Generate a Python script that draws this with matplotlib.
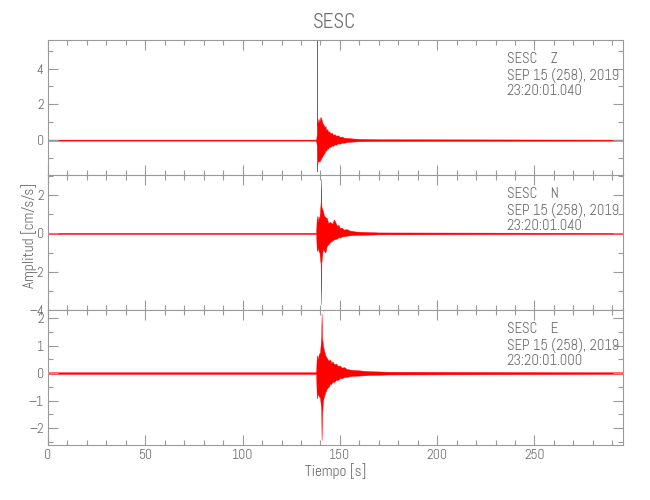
import matplotlib
matplotlib.use('Agg')
import matplotlib.pyplot as plt
from matplotlib.ticker import MultipleLocator

plt.rcParams['font.family'] = ['Abel', 'DejaVu Sans']

# ---- datos (envolvente superior / inferior) ----
t_z = [0, 137.8, 138.1, 138.15, 138.2, 138.25, 138.6, 139.0, 139.5, 140.0, 140.5, 141.0,
       141.5, 142.2, 142.6, 143.0, 143.5, 144.0, 144.6, 145.0, 145.8, 146.5, 147.3, 148.0,
       149.0, 150.0, 151.0, 152.0, 154.0, 157.0, 160.0, 170.0, 295.5]
hi_z = [0.03, 0.03, 0.3, 0.5, 5.6, 0.8, 1.0, 1.2, 1.0, 1.3, 1.2, 0.95,
        0.9, 0.7, 0.8, 0.55, 0.62, 0.45, 0.5, 0.38, 0.42, 0.3, 0.33, 0.25,
        0.27, 0.18, 0.2, 0.14, 0.12, 0.09, 0.07, 0.05, 0.03]
lo_z = [-0.03, -0.03, -0.3, -0.6, -1.75, -1.5, -1.2, -1.15, -1.2, -1.1, -1.0, -0.9,
        -0.8, -0.7, -0.55, -0.6, -0.45, -0.48, -0.35, -0.4, -0.3, -0.32, -0.24, -0.26,
        -0.18, -0.2, -0.14, -0.15, -0.1, -0.08, -0.06, -0.05, -0.03]

t_n = [0, 137.8, 138.1, 138.5, 139.0, 139.5, 140.1, 140.3, 140.5, 141.2, 141.8, 142.5,
       143.3, 144.0, 145.0, 146.0, 147.0, 148.5, 149.3, 150.0, 151.0, 152.0, 153.5, 155.0,
       158.0, 162.0, 170.0, 295.5]
hi_n = [0.03, 0.03, 0.9, 0.6, 0.9, 0.75, 1.6, 2.84, 1.4, 1.2, 0.95, 0.85,
        0.8, 0.55, 0.6, 0.5, 0.73, 0.4, 0.45, 0.28, 0.3, 0.2, 0.22, 0.15,
        0.1, 0.08, 0.05, 0.03]
lo_n = [-0.03, -0.03, -0.92, -0.75, -0.9, -1.0, -1.6, -3.69, -1.5, -0.83, -0.9, -1.0,
        -0.65, -0.57, -0.45, -0.38, -0.31, -0.27, -0.2, -0.22, -0.16, -0.15, -0.12, -0.1,
        -0.08, -0.07, -0.05, -0.03]

t_e = [0, 137.8, 138.1, 138.6, 139.2, 139.8, 140.4, 140.6, 140.8, 141.3, 141.8, 142.5,
       143.3, 144.2, 145.0, 145.5, 146.3, 147.0, 148.0, 149.0, 150.0, 151.0, 152.2, 153.5,
       156.0, 160.0, 165.0, 175.0, 295.5]
hi_e = [0.03, 0.03, 0.65, 0.5, 0.7, 0.75, 1.3, 2.17, 1.32, 1.0, 0.84, 0.65,
        0.55, 0.45, 0.5, 0.38, 0.42, 0.32, 0.35, 0.26, 0.28, 0.2, 0.22, 0.15,
        0.12, 0.1, 0.07, 0.05, 0.03]
lo_e = [-0.03, -0.03, -0.92, -0.75, -0.85, -0.9, -1.3, -2.44, -1.59, -1.0, -0.86, -0.7,
        -0.56, -0.5, -0.38, -0.4, -0.3, -0.33, -0.24, -0.25, -0.18, -0.19, -0.14, -0.14,
        -0.1, -0.09, -0.07, -0.05, -0.03]

canales = ['Z', 'N', 'E']
horas = ['23:20:01.040', '23:20:01.040', '23:20:01.000']
ylims = [(-1.95, 5.6), (-4.0, 3.05), (-2.62, 2.3)]
y_major = [2, 2, 1]
y_minor = [1, 1, 0.5]
series = [(t_z, hi_z, lo_z), (t_n, hi_n, lo_n), (t_e, hi_e, lo_e)]

gris = '#9a9a9a'
gris_txt = '#707070'
fig = plt.figure(figsize=(6.5, 5), dpi=100)

x0, w, h = 48 / 650, 575 / 650, 0.27
bottoms = [0.65, 0.38, 0.11]

for i in range(3):
    ax = fig.add_axes([x0, bottoms[i], w, h])
    t, hi, lo = series[i]
    ax.fill_between(t, lo, hi, color='red', linewidth=0.3, edgecolor='red')
    ax.set_xlim(0, 295.5)
    ax.set_ylim(*ylims[i])
    ax.xaxis.set_major_locator(MultipleLocator(50))
    ax.xaxis.set_minor_locator(MultipleLocator(10))
    ax.yaxis.set_major_locator(MultipleLocator(y_major[i]))
    ax.yaxis.set_minor_locator(MultipleLocator(y_minor[i]))
    ax.tick_params(which='both', direction='in', top=True, right=True,
                   color=gris, labelcolor=gris_txt, labelsize=10, width=0.8, pad=3)
    ax.tick_params(which='major', length=7)
    ax.tick_params(which='minor', length=3.6)
    for s in ax.spines.values():
        s.set_color(gris)
        s.set_linewidth(0.8)
    if i < 2:
        ax.tick_params(labelbottom=False)
    else:
        ax.set_xlabel('Tiempo [s]', color=gris_txt, fontsize=11, labelpad=1)
        fig.canvas.draw()
        ax.get_xticklabels()[0].set_horizontalalignment('right')

    lineas = ['SESC    ' + canales[i], 'SEP 15 (258), 2019', horas[i]]
    for k, txt in enumerate(lineas):
        ax.text(0.798, 1 - (19 + 16 * k) / 135, txt, transform=ax.transAxes,
                fontsize=10.5, color=gris_txt, va='center', ha='left')

fig.text(0.515, 0.955, 'SESC', ha='center', va='center', fontsize=15, color=gris_txt)
fig.text(0.044, 0.53, 'Amplitud [cm/s/s]', rotation=90, ha='center', va='center',
         fontsize=11, color=gris_txt)

fig.savefig('out.png', dpi=100, facecolor='white')
